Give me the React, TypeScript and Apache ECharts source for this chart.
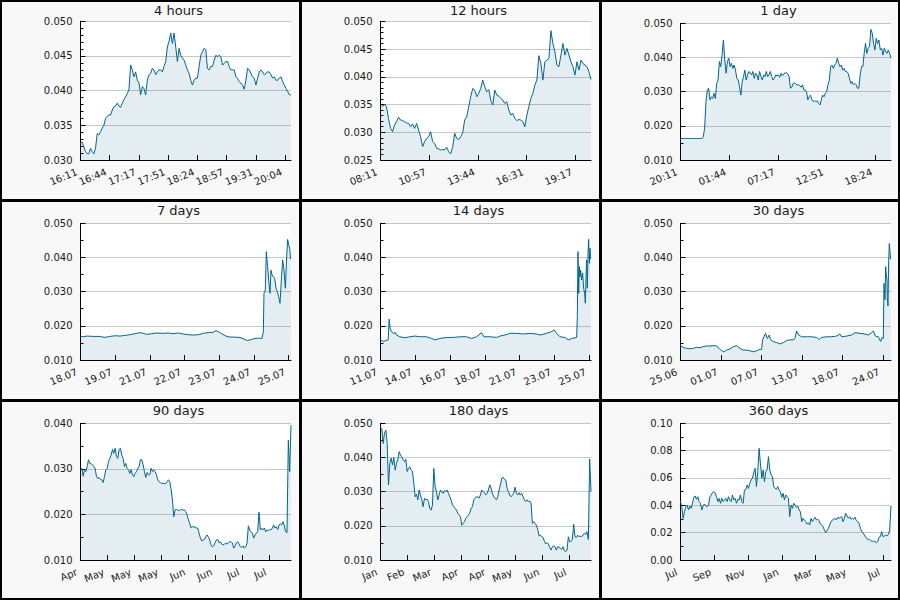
import React, { useEffect, useRef } from 'react';
import * as echarts from 'echarts';

// ---- 4 hours (evenly sampled, 16:11 .. 20:11) ----
const hours4Ticks = ['16:11', '16:44', '17:17', '17:51', '18:24', '18:57', '19:31', '20:04'];
const hours4Values = [
  0.0325, 0.0326, 0.0319, 0.0312, 0.0309, 0.0309, 0.0317, 0.0312, 0.0309, 0.0317,
  0.0338, 0.0336, 0.0341, 0.0346, 0.0350, 0.0360, 0.0363, 0.0365, 0.0365, 0.0372,
  0.0377, 0.0378, 0.0382, 0.0378, 0.0376, 0.0382, 0.0387, 0.0391, 0.0396, 0.0401,
  0.0437, 0.0430, 0.0420, 0.0427, 0.0415, 0.0411, 0.0394, 0.0406, 0.0403, 0.0394,
  0.0415, 0.0423, 0.0425, 0.0432, 0.0430, 0.0423, 0.0427, 0.0430, 0.0430, 0.0427,
  0.0435, 0.0442, 0.0463, 0.0471, 0.0483, 0.0468, 0.0483, 0.0463, 0.0442, 0.0461,
  0.0451, 0.0447, 0.0444, 0.0437, 0.0430, 0.0425, 0.0415, 0.0408, 0.0415, 0.0418,
  0.0418, 0.0435, 0.0451, 0.0456, 0.0461, 0.0459, 0.0432, 0.0430, 0.0435, 0.0435,
  0.0444, 0.0451, 0.0449, 0.0451, 0.0449, 0.0437, 0.0439, 0.0442, 0.0442, 0.0435,
  0.0430, 0.0430, 0.0430, 0.0420, 0.0418, 0.0413, 0.0411, 0.0408, 0.0402, 0.0415,
  0.0432, 0.0430, 0.0425, 0.0420, 0.0418, 0.0408, 0.0418, 0.0427, 0.0430, 0.0427,
  0.0423, 0.0425, 0.0427, 0.0427, 0.0423, 0.0418, 0.0420, 0.0415, 0.0415, 0.0418,
  0.0420, 0.0413, 0.0408, 0.0403, 0.0399, 0.0394, 0.0394,
];

// ---- 12 hours (evenly sampled, 08:11 .. 20:11) ----
const hours12Ticks = ['08:11', '10:57', '13:44', '16:31', '19:17'];
const hours12Values = [
  0.0351, 0.0347, 0.0350, 0.0346, 0.0325, 0.0307, 0.0301, 0.0313, 0.0319, 0.0327,
  0.0322, 0.0321, 0.0319, 0.0317, 0.0316, 0.0310, 0.0315, 0.0307, 0.0316, 0.0304,
  0.0292, 0.0274, 0.0283, 0.0289, 0.0292, 0.0301, 0.0283, 0.0280, 0.0271, 0.0270,
  0.0268, 0.0269, 0.0268, 0.0273, 0.0265, 0.0261, 0.0273, 0.0298, 0.0289, 0.0287,
  0.0292, 0.0299, 0.0322, 0.0328, 0.0346, 0.0364, 0.0379, 0.0376, 0.0364, 0.0370,
  0.0379, 0.0394, 0.0382, 0.0373, 0.0377, 0.0358, 0.0349, 0.0376, 0.0367, 0.0365,
  0.0361, 0.0358, 0.0352, 0.0355, 0.0340, 0.0331, 0.0334, 0.0325, 0.0321, 0.0323,
  0.0322, 0.0319, 0.0310, 0.0331, 0.0346, 0.0361, 0.0370, 0.0385, 0.0394, 0.0438,
  0.0424, 0.0394, 0.0427, 0.0430, 0.0433, 0.0483, 0.0460, 0.0445, 0.0421, 0.0418,
  0.0439, 0.0460, 0.0439, 0.0451, 0.0439, 0.0427, 0.0418, 0.0403, 0.0427, 0.0412,
  0.0430, 0.0424, 0.0421, 0.0418, 0.0409, 0.0395,
];

// ---- 1 day (evenly sampled, 20:11 .. 20:11) ----
const day1Ticks = ['20:11', '01:44', '07:17', '12:51', '18:24'];
const day1Values = [
  0.0163, 0.0163, 0.0163, 0.0163, 0.0163, 0.0163, 0.0163, 0.0163, 0.0163, 0.0163,
  0.0163, 0.0163, 0.0163, 0.0163, 0.0163, 0.0163, 0.0163,
  0.0168, 0.0193, 0.0271, 0.0305, 0.0310, 0.0276, 0.0285, 0.0280, 0.0295, 0.0280,
  0.0324, 0.0334, 0.0388, 0.0373, 0.0407, 0.0451, 0.0393, 0.0354, 0.0388, 0.0398,
  0.0373, 0.0383, 0.0368, 0.0378, 0.0363, 0.0339, 0.0334, 0.0315, 0.0290, 0.0329,
  0.0344, 0.0363, 0.0334, 0.0349, 0.0359, 0.0354, 0.0349, 0.0359, 0.0339, 0.0354,
  0.0349, 0.0334, 0.0359, 0.0344, 0.0334, 0.0349, 0.0344, 0.0359, 0.0344, 0.0349,
  0.0359, 0.0344, 0.0334, 0.0339, 0.0349, 0.0346, 0.0349, 0.0342, 0.0354, 0.0346,
  0.0352, 0.0354, 0.0356, 0.0352, 0.0344, 0.0310, 0.0313, 0.0324, 0.0326, 0.0322,
  0.0320, 0.0320, 0.0317, 0.0313, 0.0320, 0.0305, 0.0305, 0.0300, 0.0276, 0.0285,
  0.0290, 0.0276, 0.0271, 0.0274, 0.0271, 0.0273, 0.0266, 0.0261, 0.0276, 0.0290,
  0.0285, 0.0295, 0.0300, 0.0320, 0.0334, 0.0373, 0.0378, 0.0368, 0.0378, 0.0383,
  0.0398, 0.0383, 0.0373, 0.0378, 0.0363, 0.0368, 0.0359, 0.0359, 0.0354, 0.0339,
  0.0324, 0.0329, 0.0320, 0.0324, 0.0320, 0.0310, 0.0310, 0.0349, 0.0373, 0.0373,
  0.0412, 0.0441, 0.0412, 0.0427, 0.0432, 0.0482, 0.0471, 0.0441, 0.0422, 0.0456,
  0.0441, 0.0451, 0.0422, 0.0427, 0.0407, 0.0427, 0.0417, 0.0412, 0.0422, 0.0412,
  0.0398,
];

// ---- 7 days: [day offset, value] ----
const days7Ticks = ['18.07', '19.07', '21.07', '22.07', '23.07', '24.07', '25.07'];
const days7Points: [number, number][] = [
  [0, 0.0170], [0.089, 0.0168], [0.222, 0.0170], [0.422, 0.0169], [0.643, 0.0169],
  [0.81, 0.0166], [0.976, 0.0169], [1.143, 0.0171], [1.309, 0.0170], [1.475, 0.0172],
  [1.642, 0.0174], [1.808, 0.0177], [1.975, 0.0180], [2.086, 0.0178], [2.197, 0.0175],
  [2.363, 0.0177], [2.529, 0.0179], [2.751, 0.0178], [2.918, 0.0179], [3.084, 0.0177],
  [3.251, 0.0179], [3.417, 0.0176], [3.583, 0.0174], [3.75, 0.0173], [3.916, 0.0174],
  [4.083, 0.0178], [4.249, 0.0180], [4.415, 0.0181], [4.504, 0.0186], [4.582, 0.0183],
  [4.693, 0.0177], [4.837, 0.0170], [4.97, 0.0167], [5.137, 0.0167], [5.303, 0.0166],
  [5.469, 0.0160], [5.547, 0.0157], [5.691, 0.0160], [5.802, 0.0163], [5.913, 0.0164],
  [6.035, 0.0163], [6.08, 0.0183], [6.102, 0.0295], [6.146, 0.0305], [6.179, 0.0417],
  [6.224, 0.0373], [6.257, 0.0334], [6.302, 0.0295], [6.335, 0.0363], [6.368, 0.0349],
  [6.413, 0.0344], [6.457, 0.0339], [6.501, 0.0310], [6.546, 0.0300], [6.59, 0.0285],
  [6.634, 0.0266], [6.679, 0.0334], [6.723, 0.0393], [6.767, 0.0363], [6.812, 0.0310],
  [6.856, 0.0402], [6.889, 0.0453], [6.923, 0.0437], [6.956, 0.0427], [6.989, 0.0395],
  [7, 0.0395],
];

// ---- 14 days: [day offset, value] ----
const days14Ticks = ['11.07', '14.07', '16.07', '18.07', '21.07', '23.07', '25.07'];
const days14Points: [number, number][] = [
  [0, 0.0160], [0.177, 0.0154], [0.355, 0.0157], [0.51, 0.0159], [0.577, 0.0220],
  [0.643, 0.0193], [0.732, 0.0183], [0.843, 0.0178], [0.998, 0.0180], [1.065, 0.0173],
  [1.287, 0.0168], [1.62, 0.0165], [1.952, 0.0168], [2.285, 0.0170], [2.618, 0.0168],
  [3.062, 0.0168], [3.395, 0.0163], [3.616, 0.0159], [3.949, 0.0163], [4.393, 0.0166],
  [4.837, 0.0166], [5.28, 0.0168], [5.724, 0.0168], [6.057, 0.0163], [6.39, 0.0168],
  [6.723, 0.0180], [6.878, 0.0168], [7.277, 0.0168], [7.721, 0.0166], [7.943, 0.0170],
  [8.276, 0.0173], [8.608, 0.0178], [9.052, 0.0178], [9.496, 0.0176], [9.94, 0.0178],
  [10.384, 0.0176], [10.605, 0.0173], [11.049, 0.0178], [11.382, 0.0183], [11.537, 0.0188],
  [11.715, 0.0178], [11.937, 0.0168], [12.269, 0.0166], [12.491, 0.0159], [12.715, 0.0163],
  [13.046, 0.0166], [13.091, 0.0227], [13.135, 0.0417], [13.18, 0.0295], [13.224, 0.0373],
  [13.268, 0.0344], [13.312, 0.0363], [13.379, 0.0334], [13.446, 0.0354], [13.512, 0.0310],
  [13.579, 0.0295], [13.623, 0.0266], [13.667, 0.0344], [13.712, 0.0393], [13.756, 0.0310],
  [13.801, 0.0412], [13.845, 0.0453], [13.889, 0.0383], [13.934, 0.0427], [13.978, 0.0395],
  [14, 0.0395],
];

// ---- 30 days: [day offset, value] ----
const days30Ticks = ['25.06', '01.07', '07.07', '13.07', '18.07', '24.07'];
const days30Points: [number, number][] = [
  [0, 0.0141], [0.38, 0.0137], [0.856, 0.0134], [1.331, 0.0133], [1.807, 0.0134],
  [2.282, 0.0137], [2.758, 0.0136], [3.233, 0.0139], [3.708, 0.0141], [4.184, 0.0141],
  [4.659, 0.0142], [5.135, 0.0141], [5.515, 0.0134], [5.848, 0.0127], [6.181, 0.0124],
  [6.561, 0.0129], [7.037, 0.0132], [7.512, 0.0139], [7.987, 0.0142], [8.463, 0.0134],
  [8.938, 0.0129], [9.414, 0.0129], [9.889, 0.0127], [10.365, 0.0124], [10.84, 0.0127],
  [11.315, 0.0131], [11.553, 0.0131], [11.696, 0.0159], [11.886, 0.0168], [12.124, 0.0178],
  [12.361, 0.0163], [12.647, 0.0173], [12.837, 0.0159], [13.217, 0.0154], [13.693, 0.0151],
  [14.168, 0.0147], [14.644, 0.0151], [15.119, 0.0157], [15.594, 0.0159], [16.07, 0.0159],
  [16.308, 0.0163], [16.545, 0.0185], [16.831, 0.0173], [17.258, 0.0168], [17.972, 0.0168],
  [18.685, 0.0168], [19.398, 0.0166], [19.778, 0.0160], [20.111, 0.0166], [20.824, 0.0168],
  [21.537, 0.0168], [22.251, 0.0170], [22.726, 0.0176], [22.964, 0.0168], [23.677, 0.0170],
  [24.39, 0.0173], [24.866, 0.0180], [25.579, 0.0178], [26.292, 0.0176], [26.768, 0.0173],
  [27.243, 0.0180], [27.481, 0.0185], [27.766, 0.0170], [28.194, 0.0168], [28.527, 0.0154],
  [28.717, 0.0166], [28.907, 0.0163], [29.002, 0.0324], [29.145, 0.0276], [29.24, 0.0373],
  [29.335, 0.0349], [29.43, 0.0334], [29.477, 0.0285], [29.572, 0.0258], [29.667, 0.0388],
  [29.762, 0.0441], [29.857, 0.0417], [29.952, 0.0395], [30, 0.0395],
];

// ---- 90 days (evenly sampled) ----
const days90Ticks = ['Apr', 'May', 'May', 'May', 'Jun', 'Jun', 'Jul', 'Jul'];
const days90Values = [
  0.0298, 0.0301, 0.0284, 0.0298, 0.0294, 0.0305, 0.0320, 0.0312, 0.0311, 0.0309,
  0.0305, 0.0301, 0.0283, 0.0279, 0.0281, 0.0277, 0.0276, 0.0270, 0.0283, 0.0298,
  0.0301, 0.0316, 0.0323, 0.0330, 0.0343, 0.0334, 0.0345, 0.0327, 0.0323, 0.0343,
  0.0345, 0.0330, 0.0323, 0.0305, 0.0312, 0.0301, 0.0298, 0.0290, 0.0298, 0.0287,
  0.0283, 0.0290, 0.0294, 0.0301, 0.0305, 0.0320, 0.0320, 0.0309, 0.0294, 0.0281,
  0.0292, 0.0287, 0.0287, 0.0301, 0.0294, 0.0298, 0.0294, 0.0287, 0.0276, 0.0272,
  0.0270, 0.0268, 0.0268, 0.0268, 0.0267, 0.0272, 0.0276, 0.0272, 0.0255, 0.0232,
  0.0195, 0.0210, 0.0211, 0.0210, 0.0208, 0.0211, 0.0210, 0.0210, 0.0210, 0.0206,
  0.0199, 0.0188, 0.0180, 0.0170, 0.0173, 0.0173, 0.0172, 0.0170, 0.0170, 0.0159,
  0.0148, 0.0142, 0.0144, 0.0145, 0.0151, 0.0155, 0.0150, 0.0144, 0.0133, 0.0129,
  0.0131, 0.0138, 0.0144, 0.0145, 0.0138, 0.0140, 0.0135, 0.0133, 0.0135, 0.0137,
  0.0135, 0.0138, 0.0140, 0.0140, 0.0137, 0.0126, 0.0131, 0.0138, 0.0140, 0.0135,
  0.0129, 0.0128, 0.0131, 0.0126, 0.0129, 0.0137, 0.0175, 0.0166, 0.0162, 0.0159,
  0.0148, 0.0155, 0.0159, 0.0162, 0.0205, 0.0166, 0.0170, 0.0166, 0.0170, 0.0162,
  0.0166, 0.0164, 0.0167, 0.0166, 0.0170, 0.0177, 0.0170, 0.0173, 0.0167, 0.0177,
  0.0179, 0.0177, 0.0184, 0.0175, 0.0162, 0.0160, 0.0363, 0.0294, 0.0396,
];

// ---- 180 days (evenly sampled) ----
const days180Ticks = ['Jan', 'Feb', 'Mar', 'Apr', 'Apr', 'May', 'Jun', 'Jul'];
const days180Values = [
  0.0485, 0.0485, 0.0441, 0.0471, 0.0480, 0.0441, 0.0320, 0.0383, 0.0398, 0.0378,
  0.0400, 0.0363, 0.0383, 0.0393, 0.0417, 0.0407, 0.0402, 0.0393, 0.0388, 0.0395,
  0.0359, 0.0368, 0.0373, 0.0363, 0.0359, 0.0324, 0.0285, 0.0293, 0.0276, 0.0305,
  0.0290, 0.0276, 0.0256, 0.0281, 0.0276, 0.0278, 0.0271, 0.0251, 0.0246, 0.0261,
  0.0368, 0.0315, 0.0300, 0.0276, 0.0290, 0.0305, 0.0300, 0.0295, 0.0303, 0.0300,
  0.0305, 0.0295, 0.0285, 0.0276, 0.0261, 0.0256, 0.0251, 0.0246, 0.0237, 0.0232,
  0.0227, 0.0202, 0.0207, 0.0212, 0.0222, 0.0227, 0.0232, 0.0237, 0.0251, 0.0256,
  0.0276, 0.0281, 0.0285, 0.0285, 0.0281, 0.0290, 0.0305, 0.0300, 0.0297, 0.0290,
  0.0295, 0.0305, 0.0320, 0.0310, 0.0295, 0.0285, 0.0281, 0.0276, 0.0285, 0.0305,
  0.0320, 0.0339, 0.0342, 0.0336, 0.0334, 0.0310, 0.0300, 0.0290, 0.0285, 0.0290,
  0.0295, 0.0313, 0.0295, 0.0290, 0.0297, 0.0290, 0.0295, 0.0285, 0.0276, 0.0271,
  0.0276, 0.0271, 0.0273, 0.0266, 0.0207, 0.0212, 0.0207, 0.0202, 0.0190, 0.0170,
  0.0173, 0.0168, 0.0166, 0.0155, 0.0147, 0.0151, 0.0147, 0.0137, 0.0129, 0.0139,
  0.0141, 0.0139, 0.0129, 0.0139, 0.0137, 0.0134, 0.0131, 0.0139, 0.0127, 0.0124,
  0.0129, 0.0168, 0.0154, 0.0154, 0.0159, 0.0205, 0.0168, 0.0166, 0.0173, 0.0168,
  0.0170, 0.0168, 0.0173, 0.0178, 0.0175, 0.0183, 0.0160, 0.0395, 0.0300,
];

// ---- 360 days (evenly sampled) ----
const days360Ticks = ['Jul', 'Sep', 'Nov', 'Jan', 'Mar', 'May', 'Jul'];
const days360Values = [
  0.0427, 0.0390, 0.0305, 0.0354, 0.0390, 0.0402, 0.0366, 0.0395, 0.0378, 0.0415,
  0.0459, 0.0468, 0.0444, 0.0463, 0.0427, 0.0415, 0.0366, 0.0395, 0.0410, 0.0395,
  0.0390, 0.0402, 0.0459, 0.0476, 0.0493, 0.0500, 0.0493, 0.0463, 0.0427, 0.0451,
  0.0415, 0.0451, 0.0427, 0.0439, 0.0451, 0.0427, 0.0463, 0.0439, 0.0427, 0.0476,
  0.0439, 0.0451, 0.0415, 0.0444, 0.0439, 0.0476, 0.0427, 0.0415, 0.0512, 0.0517,
  0.0549, 0.0524, 0.0561, 0.0585, 0.0598, 0.0639, 0.0671, 0.0537, 0.0646, 0.0817,
  0.0707, 0.0598, 0.0659, 0.0573, 0.0646, 0.0659, 0.0756, 0.0659, 0.0622, 0.0610,
  0.0537, 0.0524, 0.0517, 0.0537, 0.0512, 0.0500, 0.0459, 0.0488, 0.0439, 0.0476,
  0.0463, 0.0451, 0.0317, 0.0402, 0.0378, 0.0415, 0.0402, 0.0385, 0.0395, 0.0366,
  0.0354, 0.0280, 0.0305, 0.0293, 0.0280, 0.0263, 0.0273, 0.0256, 0.0305, 0.0280,
  0.0298, 0.0312, 0.0293, 0.0298, 0.0288, 0.0263, 0.0256, 0.0244, 0.0220, 0.0200,
  0.0215, 0.0232, 0.0256, 0.0280, 0.0293, 0.0298, 0.0305, 0.0293, 0.0312, 0.0305,
  0.0312, 0.0317, 0.0280, 0.0305, 0.0342, 0.0322, 0.0305, 0.0317, 0.0298, 0.0305,
  0.0298, 0.0312, 0.0288, 0.0280, 0.0268, 0.0232, 0.0207, 0.0200, 0.0183, 0.0166,
  0.0159, 0.0146, 0.0151, 0.0141, 0.0134, 0.0141, 0.0134, 0.0127, 0.0134, 0.0166,
  0.0171, 0.0207, 0.0171, 0.0176, 0.0183, 0.0176, 0.0188, 0.0220, 0.0395,
];

interface Panel {
  title: string;
  span: number; // length of the window in the x unit
  step: number; // spacing of the date ticks
  ticks: string[];
  values?: number[];
  points?: [number, number][];
  yMin: number;
  yMax: number;
  yStep: number;
  minorSplit: number;
  digits: number;
  top: number;
}

const panels: Panel[] = [
  { title: '4 hours', span: 240, step: 240 / 7.2, ticks: hours4Ticks, values: hours4Values, yMin: 0.03, yMax: 0.05, yStep: 0.005, minorSplit: 5, digits: 3, top: 21.3 },
  { title: '12 hours', span: 720, step: 720 / 4.32, ticks: hours12Ticks, values: hours12Values, yMin: 0.025, yMax: 0.05, yStep: 0.005, minorSplit: 5, digits: 3, top: 21.3 },
  { title: '1 day', span: 1440, step: 1440 / 4.32, ticks: day1Ticks, values: day1Values, yMin: 0.01, yMax: 0.05, yStep: 0.01, minorSplit: 2, digits: 3, top: 23.3 },
  { title: '7 days', span: 7, step: 7 / 6.07, ticks: days7Ticks, points: days7Points, yMin: 0.01, yMax: 0.05, yStep: 0.01, minorSplit: 2, digits: 3, top: 23.3 },
  { title: '14 days', span: 14, step: 14 / 6.05, ticks: days14Ticks, points: days14Points, yMin: 0.01, yMax: 0.05, yStep: 0.01, minorSplit: 2, digits: 3, top: 23.3 },
  { title: '30 days', span: 30, step: 30 / 5.2, ticks: days30Ticks, points: days30Points, yMin: 0.01, yMax: 0.05, yStep: 0.01, minorSplit: 2, digits: 3, top: 23.3 },
  { title: '90 days', span: 90, step: 90 / 7.8, ticks: days90Ticks, values: days90Values, yMin: 0.01, yMax: 0.04, yStep: 0.01, minorSplit: 2, digits: 3, top: 23.3 },
  { title: '180 days', span: 180, step: 180 / 7.8, ticks: days180Ticks, values: days180Values, yMin: 0.01, yMax: 0.05, yStep: 0.01, minorSplit: 2, digits: 3, top: 23.3 },
  { title: '360 days', span: 360, step: 360 / 6.235, ticks: days360Ticks, values: days360Values, yMin: 0, yMax: 0.1, yStep: 0.02, minorSplit: 2, digits: 2, top: 23.3 },
];

const FONT = '"DejaVu Sans", "Noto Sans", sans-serif';
const LINE_COLOR = '#00668f';
const AREA_COLOR = 'rgba(55, 130, 165, 0.2)';
const TEXT_COLOR = '#1a1a1a';

function buildOption(): echarts.EChartsCoreOption {
  const grid: any[] = [];
  const xAxis: any[] = [];
  const yAxis: any[] = [];
  const series: any[] = [];
  const graphic: any[] = [];

  panels.forEach((p, i) => {
    const ox = (i % 3) * 300;
    const oy = Math.floor(i / 3) * 200;
    grid.push({
      left: ox + 80.5,
      top: oy + p.top,
      width: 210.5,
      height: 160 - p.top,
      show: true,
      backgroundColor: '#ffffff',
      borderWidth: 0,
    });

    const tickValues = p.ticks.map((_, k) => k * p.step);
    xAxis.push({
      gridIndex: i,
      type: 'value',
      min: 0,
      max: p.span,
      interval: p.step,
      axisLine: { show: true, onZero: false, lineStyle: { color: '#000', width: 1 } },
      axisTick: { show: true, inside: true, length: 5, lineStyle: { color: '#000' }, customValues: tickValues },
      axisLabel: {
        customValues: tickValues,
        rotate: 22,
        margin: 10,
        padding: [0, 4, 0, 0],
        fontSize: 10,
        fontFamily: FONT,
        color: TEXT_COLOR,
        formatter: (v: number) => {
          const k = Math.round(v / p.step);
          return Math.abs(v / p.step - k) < 0.02 && k < p.ticks.length ? p.ticks[k] : '';
        },
      },
      splitLine: { show: false },
    });

    yAxis.push({
      gridIndex: i,
      type: 'value',
      min: p.yMin,
      max: p.yMax,
      interval: p.yStep,
      axisLine: { show: true, onZero: false, lineStyle: { color: '#000', width: 1 } },
      axisTick: { show: true, inside: true, length: 5, lineStyle: { color: '#000' } },
      minorTick: { show: true, splitNumber: p.minorSplit, length: 3, lineStyle: { color: '#000' } },
      axisLabel: {
        margin: 8,
        fontSize: 10,
        fontFamily: FONT,
        color: TEXT_COLOR,
        formatter: (v: number) => v.toFixed(p.digits),
      },
      splitLine: { show: true, lineStyle: { color: '#c6c6c6', width: 1 } },
    });

    const data = p.points
      ? p.points
      : (p.values as number[]).map((v, k, arr) => [(k * p.span) / (arr.length - 1), v]);

    series.push({
      type: 'line',
      xAxisIndex: i,
      yAxisIndex: i,
      data,
      showSymbol: false,
      symbol: 'none',
      silent: true,
      lineStyle: { color: LINE_COLOR, width: 1 },
      areaStyle: { color: AREA_COLOR, origin: 'start' },
    });

    graphic.push({
      type: 'text',
      x: ox + 178.5,
      y: oy + 10.5,
      z: 50,
      style: {
        text: p.title,
        fill: TEXT_COLOR,
        font: `13px ${FONT}`,
        align: 'center',
        verticalAlign: 'middle',
      },
    });
  });

  // panel dividers and outer frame
  [300.5, 600.5].forEach((x) =>
    graphic.push({ type: 'line', z: 100, shape: { x1: x, y1: 0, x2: x, y2: 600 }, style: { stroke: '#000', lineWidth: 3 } })
  );
  [200.5, 400.5].forEach((y) =>
    graphic.push({ type: 'line', z: 100, shape: { x1: 0, y1: y, x2: 900, y2: y }, style: { stroke: '#000', lineWidth: 3 } })
  );
  graphic.push({
    type: 'rect',
    z: 100,
    shape: { x: 1, y: 1, width: 898, height: 598 },
    style: { fill: 'none', stroke: '#000', lineWidth: 2 },
  });

  return {
    animation: false,
    backgroundColor: 'transparent',
    grid,
    xAxis,
    yAxis,
    series,
    graphic,
  };
}

export default function App() {
  const ref = useRef<HTMLDivElement>(null);

  useEffect(() => {
    if (!ref.current) return;
    const chart = echarts.init(ref.current, undefined, { renderer: 'svg' });
    chart.setOption(buildOption());
    return () => chart.dispose();
  }, []);

  return (
    <div
      ref={ref}
      style={{ position: 'absolute', left: 0, top: 0, width: 900, height: 600, background: '#f8f8f8' }}
    />
  );
}
